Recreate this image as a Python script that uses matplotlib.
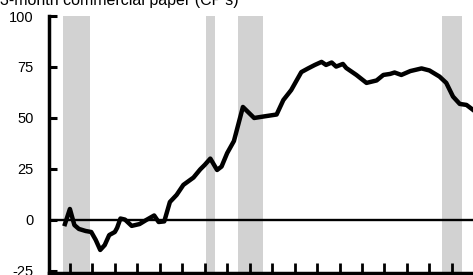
import matplotlib.pyplot as plt

# quarterly-ish readings, years vs. basis points
years = [1973.78, 1974.0, 1974.2, 1974.4, 1974.7, 1974.95, 1975.15, 1975.35, 1975.55, 1975.75,
         1976.0, 1976.1, 1976.25, 1976.45, 1976.75, 1977.1, 1977.4, 1977.75, 1977.95, 1978.2,
         1978.45, 1978.75, 1979.05, 1979.5, 1979.8, 1980.0, 1980.25, 1980.55, 1980.75, 1981.0,
         1981.3, 1981.7, 1982.2, 1982.6, 1983.2, 1983.5, 1983.85, 1984.1, 1984.3, 1984.6,
         1984.9, 1985.2, 1985.4, 1985.65, 1985.85, 1986.15, 1986.3, 1986.75, 1987.2, 1987.65,
         1987.95, 1988.25, 1988.45, 1988.75, 1989.15, 1989.65, 1990.0, 1990.45, 1990.75, 1991.05,
         1991.35, 1991.65, 1991.95]
spread = [-2, 5.4, -2.5, -4.4, -5.4, -5.9, -9.8, -14.7, -12.3, -7.4,
          -5.9, -3.9, 0.7, 0.2, -2.9, -2, 0, 2.2, -1, -0.7,
          8.8, 12.3, 17.2, 20.8, 24.8, 27, 30.1, 24.5, 26.2, 32.8,
          38.7, 55.4, 50, 50.7, 51.7, 58.8, 63.7, 68.6, 72.5, 74.3,
          76, 77.5, 76, 77.2, 75.2, 76.5, 74.5, 71.1, 67.2, 68.4,
          71.1, 71.6, 72.3, 71.1, 73, 74.3, 73.3, 70.3, 67.2, 60.5,
          56.9, 56.4, 53.9]

recessions = [(1973.69, 1974.89), (1980.05, 1980.45), (1981.48, 1982.59), (1990.56, 1991.45)]
yticks = [-25, 0, 25, 50, 75, 100]
xticks = list(range(1974, 1992))
title = "3-month commercial paper (CP's)"

plt.rcParams['font.family'] = ['Liberation Sans', 'DejaVu Sans']

fig = plt.figure(figsize=(4.73, 2.75), dpi=100)
ax = fig.add_axes([49 / 473, 2 / 275, 424 / 473, 257 / 275])

for start, end in recessions:
    ax.axvspan(start, end, color='#d2d2d2', lw=0, zorder=0)

ax.axhline(0, color='black', lw=1.7, zorder=1)
ax.plot(years, spread, color='black', lw=3.2, solid_joinstyle='round', zorder=2)

ax.set_xlim(1973.07, 1991.94)
ax.set_ylim(-26, 100)
ax.set_xticks(xticks)
ax.set_xticklabels([])
ax.set_yticks(yticks)
ax.set_yticklabels([str(v) for v in yticks])

for side in ['top', 'right']:
    ax.spines[side].set_visible(False)
for side in ['left', 'bottom']:
    ax.spines[side].set_linewidth(2.5)

ax.tick_params(axis='x', direction='in', length=7, width=2)
ax.tick_params(axis='y', direction='in', length=6, width=2.2, pad=11, labelsize=10.5)

fig.text(0.0, 1 - 4.5 / 275, title, fontsize=11.5, ha='left', va='baseline')

fig.savefig('out.png', dpi=100)
